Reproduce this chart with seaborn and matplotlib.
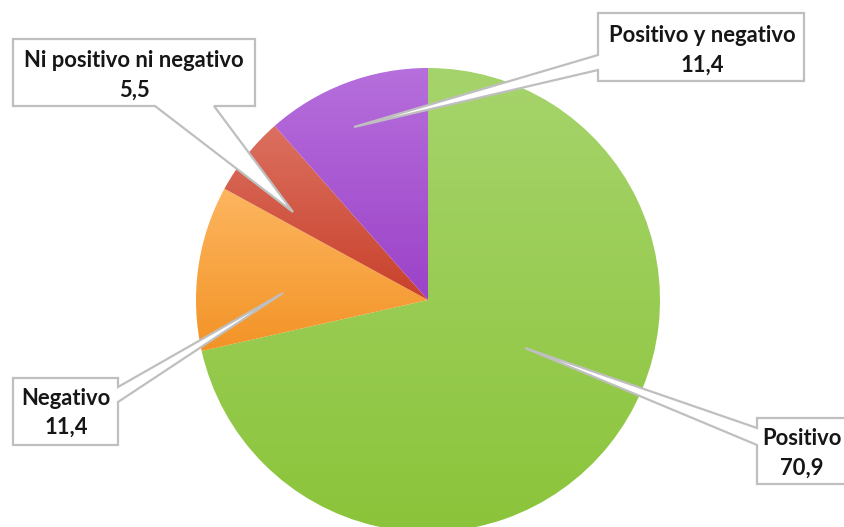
import numpy as np
import matplotlib
matplotlib.use("Agg")
import matplotlib.pyplot as plt
from matplotlib.patches import Polygon
import seaborn as sns

# ---- data ----
categories = ["Positivo", "Negativo", "Ni positivo ni negativo", "Positivo y negativo"]
values = [70.9, 11.4, 5.5, 11.4]
value_labels = ["70,9", "11,4", "5,5", "11,4"]
grad_top = ["#a6d46c", "#fdb660", "#dc7060", "#b66fdc"]
grad_bottom = ["#8bc43a", "#f39326", "#c8412b", "#9c42c8"]

sns.set_theme(style="white")
plt.rcParams["font.family"] = ["Lato", "DejaVu Sans"]

W, H = 844, 527
fig = plt.figure(figsize=(W / 100, H / 100), dpi=100)
ax = fig.add_axes([0, 0, 1, 1])
ax.set_xlim(0, W)
ax.set_ylim(0, H)
ax.axis("off")


def Y(py):
    return H - py


cx, cy, R = 428, Y(300), 232
wedges, _ = ax.pie(values, center=(cx, cy), radius=R, startangle=90,
                   counterclock=False, frame=True,
                   wedgeprops=dict(linewidth=0))
ax.set_xlim(0, W)
ax.set_ylim(0, H)
ax.set_aspect("auto")
ax.axis("off")

for w, ct, cb in zip(wedges, grad_top, grad_bottom):
    w.set_facecolor("none")
    ext = w.get_path().get_extents()
    pal = sns.blend_palette([ct, cb], n_colors=256)
    img = np.array(pal)[:, None, :]
    im = ax.imshow(img, extent=(ext.x0, ext.x1, ext.y0, ext.y1), origin="upper",
                   aspect="auto", interpolation="bilinear", zorder=1)
    im.set_clip_path(w)

ax.set_xlim(0, W)
ax.set_ylim(0, H)

edge = "#bfbfbf"


def callout(box, side, b1, b2, tip):
    """box=(x0,y0,x1,y1) in pixel coords (y down); side: which edge carries the pointer"""
    x0, y0, x1, y1 = box
    if side == "bottom":
        pts = [(x0, y0), (x1, y0), (x1, y1), (b2, y1), tip, (b1, y1), (x0, y1)]
    elif side == "left":
        pts = [(x0, y0), (x1, y0), (x1, y1), (x0, y1), (x0, b2), tip, (x0, b1)]
    elif side == "right":
        pts = [(x0, y0), (x1, y0), (x1, b1), tip, (x1, b2), (x1, y1), (x0, y1)]
    pts = [(x, Y(y)) for x, y in pts]
    ax.add_patch(Polygon(pts, closed=True, facecolor="white", edgecolor=edge,
                         linewidth=1.6, joinstyle="miter", zorder=3))


# label boxes
callout((13, 39, 255, 106), "bottom", 155, 214, (293, 212))
callout((598, 13, 804, 81), "left", 55, 70, (354, 127))
callout((13, 378, 118, 445), "right", 387, 402, (283, 293))
callout((757, 418, 860, 484), "left", 428, 445, (525, 348))

tc = "#161616"
fs = 15.8
text_pos = {
    "Ni positivo ni negativo": (134, 67, 97),
    "Positivo y negativo": (702, 42, 72),
    "Negativo": (66, 405, 434),
    "Positivo": (802, 445, 475),
}
for cat, val in zip(categories, value_labels):
    x, yl1, yl2 = text_pos[cat]
    ax.text(x, Y(yl1), cat, ha="center", va="baseline", fontsize=fs,
            fontweight="bold", color=tc, zorder=4)
    ax.text(x, Y(yl2), val, ha="center", va="baseline", fontsize=fs,
            fontweight="bold", color=tc, zorder=4)

fig.savefig("out.png", dpi=100)
